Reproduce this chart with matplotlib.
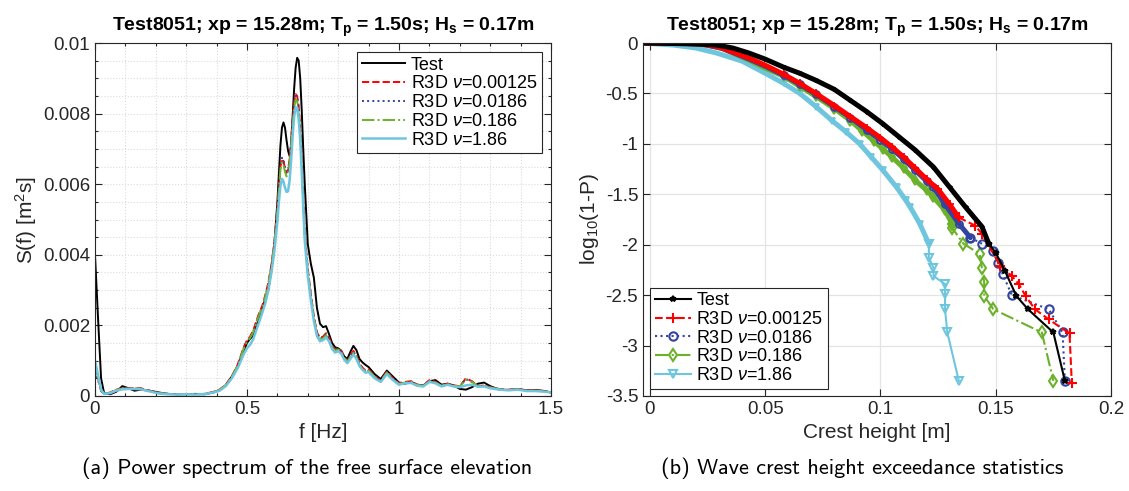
import numpy as np
import matplotlib
matplotlib.use("Agg")
import matplotlib.pyplot as plt
from matplotlib.ticker import MultipleLocator, FuncFormatter

plt.rcParams['font.family'] = ['Liberation Sans', 'DejaVu Sans']
plt.rcParams['mathtext.fontset'] = 'custom'
plt.rcParams['mathtext.rm'] = 'Liberation Sans'
plt.rcParams['mathtext.it'] = 'Liberation Sans:italic'
plt.rcParams['mathtext.bf'] = 'Liberation Sans:bold'

# ---- (a) power spectrum, S in 1e-3 m^2 s ----
f_hz = [0.00, 0.01, 0.02, 0.03, 0.05, 0.07, 0.09, 0.11, 0.13, 0.15,
        0.18, 0.21, 0.24, 0.27, 0.30, 0.33, 0.36, 0.39, 0.41, 0.43,
        0.45, 0.47, 0.49, 0.50, 0.51, 0.52, 0.53, 0.54, 0.55, 0.56,
        0.57, 0.58, 0.59, 0.60, 0.605, 0.61, 0.615, 0.62, 0.625, 0.63,
        0.635, 0.64, 0.645, 0.65, 0.655, 0.66, 0.665, 0.67, 0.675, 0.68,
        0.685, 0.69, 0.70, 0.71, 0.72, 0.73, 0.74, 0.75, 0.76, 0.77,
        0.78, 0.79, 0.80, 0.81, 0.82, 0.83, 0.84, 0.85, 0.86, 0.87,
        0.88, 0.89, 0.90, 0.92, 0.94, 0.96, 0.98, 1.00, 1.02, 1.04,
        1.06, 1.08, 1.10, 1.12, 1.14, 1.16, 1.18, 1.20, 1.22, 1.24,
        1.26, 1.28, 1.30, 1.33, 1.36, 1.39, 1.42, 1.45, 1.48, 1.50]

s_test = [4.00, 2.20, 0.50, 0.08, 0.05, 0.12, 0.28, 0.22, 0.15, 0.18,
          0.15, 0.10, 0.06, 0.05, 0.05, 0.06, 0.05, 0.10, 0.17, 0.30,
          0.55, 0.85, 1.30, 1.50, 1.62, 1.70, 1.95, 2.20, 2.45, 2.75,
          3.00, 3.55, 4.30, 5.50, 6.30, 7.10, 7.60, 7.75, 7.60, 7.25,
          6.95, 6.80, 7.10, 7.90, 8.70, 9.30, 9.58, 9.50, 9.00, 8.10,
          7.00, 6.00, 4.30, 3.75, 3.35, 2.50, 2.05, 1.95, 1.98, 1.75,
          1.50, 1.38, 1.35, 1.28, 1.12, 1.05, 1.25, 1.42, 1.30, 1.05,
          0.95, 0.88, 0.82, 0.62, 0.48, 0.72, 0.55, 0.38, 0.35, 0.40,
          0.32, 0.30, 0.42, 0.45, 0.32, 0.35, 0.30, 0.20, 0.18, 0.25,
          0.35, 0.38, 0.28, 0.18, 0.17, 0.20, 0.16, 0.17, 0.14, 0.10]

s_nu00125 = [0.80, 0.50, 0.15, 0.06, 0.10, 0.18, 0.22, 0.22, 0.22, 0.22,
             0.15, 0.08, 0.06, 0.05, 0.06, 0.05, 0.06, 0.12, 0.18, 0.32,
             0.55, 0.90, 1.40, 1.58, 1.68, 1.85, 2.10, 2.35, 2.55, 2.85,
             3.20, 3.70, 4.35, 5.30, 5.90, 6.50, 6.72, 6.65, 6.45, 6.32,
             6.40, 6.70, 7.20, 7.80, 8.30, 8.55, 8.50, 8.20, 7.60, 6.70,
             5.60, 4.60, 3.60, 2.90, 2.25, 1.80, 1.65, 1.68, 1.78, 1.65,
             1.42, 1.32, 1.36, 1.28, 1.10, 1.00, 1.15, 1.28, 1.15, 0.92,
             0.80, 0.72, 0.75, 0.56, 0.44, 0.70, 0.50, 0.36, 0.40, 0.42,
             0.32, 0.30, 0.45, 0.40, 0.30, 0.35, 0.30, 0.28, 0.50, 0.42,
             0.28, 0.30, 0.25, 0.20, 0.18, 0.20, 0.16, 0.16, 0.14, 0.10]

s_nu0186 = [0.70, 0.45, 0.14, 0.06, 0.10, 0.17, 0.21, 0.21, 0.21, 0.21,
            0.14, 0.08, 0.06, 0.05, 0.06, 0.05, 0.06, 0.11, 0.17, 0.31,
            0.54, 0.88, 1.38, 1.55, 1.65, 1.82, 2.07, 2.32, 2.52, 2.82,
            3.17, 3.68, 4.33, 5.30, 5.92, 6.52, 6.75, 6.68, 6.48, 6.34,
            6.40, 6.68, 7.15, 7.75, 8.25, 8.50, 8.46, 8.15, 7.55, 6.65,
            5.55, 4.55, 3.55, 2.85, 2.22, 1.78, 1.62, 1.66, 1.75, 1.62,
            1.40, 1.30, 1.34, 1.26, 1.08, 0.98, 1.12, 1.25, 1.12, 0.90,
            0.78, 0.70, 0.72, 0.54, 0.43, 0.68, 0.49, 0.35, 0.38, 0.40,
            0.31, 0.29, 0.43, 0.38, 0.29, 0.34, 0.29, 0.27, 0.48, 0.40,
            0.27, 0.29, 0.24, 0.19, 0.17, 0.19, 0.15, 0.15, 0.13, 0.10]

s_nu186 = [0.85, 0.52, 0.16, 0.06, 0.10, 0.17, 0.21, 0.21, 0.21, 0.20,
           0.14, 0.08, 0.06, 0.05, 0.06, 0.05, 0.06, 0.11, 0.17, 0.31,
           0.54, 0.88, 1.36, 1.53, 1.64, 1.80, 2.05, 2.30, 2.50, 2.80,
           3.15, 3.65, 4.30, 5.25, 5.85, 6.42, 6.62, 6.55, 6.35, 6.22,
           6.30, 6.60, 7.08, 7.68, 8.15, 8.40, 8.36, 8.05, 7.45, 6.55,
           5.50, 4.50, 3.50, 2.82, 2.20, 1.76, 1.60, 1.63, 1.72, 1.60,
           1.38, 1.28, 1.32, 1.25, 1.07, 0.97, 1.10, 1.23, 1.10, 0.88,
           0.77, 0.69, 0.72, 0.54, 0.42, 0.66, 0.48, 0.34, 0.38, 0.40,
           0.31, 0.29, 0.43, 0.38, 0.29, 0.34, 0.29, 0.27, 0.46, 0.40,
           0.27, 0.29, 0.24, 0.19, 0.17, 0.19, 0.15, 0.15, 0.13, 0.10]

s_nu186_0 = [1.00, 0.60, 0.18, 0.06, 0.08, 0.15, 0.19, 0.20, 0.20, 0.19,
             0.13, 0.07, 0.05, 0.04, 0.05, 0.04, 0.05, 0.10, 0.15, 0.28,
             0.50, 0.80, 1.20, 1.35, 1.45, 1.60, 1.85, 2.10, 2.35, 2.62,
             2.98, 3.48, 4.10, 4.95, 5.50, 5.95, 6.15, 6.08, 5.90, 5.78,
             5.80, 6.10, 6.65, 7.35, 7.90, 8.18, 8.15, 7.85, 7.25, 6.35,
             5.35, 4.40, 3.40, 2.72, 2.12, 1.70, 1.55, 1.58, 1.66, 1.55,
             1.33, 1.23, 1.27, 1.20, 1.03, 0.93, 1.05, 1.18, 1.05, 0.85,
             0.74, 0.66, 0.68, 0.50, 0.40, 0.62, 0.45, 0.32, 0.36, 0.37,
             0.29, 0.27, 0.40, 0.36, 0.27, 0.32, 0.27, 0.25, 0.30, 0.32,
             0.26, 0.27, 0.22, 0.18, 0.16, 0.18, 0.14, 0.14, 0.12, 0.10]

# ---- (b) crest exceedance: dense body + sparse tail ----
test_body_h = [-0.003, 0.010, 0.020, 0.029, 0.036, 0.043, 0.050, 0.058, 0.065, 0.072,
               0.080, 0.087, 0.094, 0.101, 0.108, 0.115, 0.123, 0.130, 0.137, 0.144, 0.147]
test_body_y = [0.0, -0.005, -0.01, -0.02, -0.05, -0.10, -0.16, -0.24, -0.30, -0.37,
               -0.46, -0.57, -0.68, -0.80, -0.93, -1.06, -1.23, -1.43, -1.63, -1.82, -1.99]
test_tail_h = [0.147, 0.150, 0.154, 0.159, 0.164, 0.175, 0.180]
test_tail_y = [-1.99, -2.08, -2.26, -2.51, -2.64, -2.87, -3.35]

nu00125_body_h = [-0.003, 0.010, 0.022, 0.030, 0.043, 0.050, 0.058, 0.065, 0.072, 0.080,
                  0.087, 0.094, 0.100, 0.105, 0.110, 0.115, 0.120, 0.125, 0.130, 0.134]
nu00125_body_y = [0.0, 0.0, -0.01, -0.04, -0.15, -0.22, -0.31, -0.40, -0.50, -0.62,
                  -0.73, -0.84, -0.94, -1.03, -1.13, -1.24, -1.35, -1.45, -1.60, -1.73]
nu00125_tail_h = [0.134, 0.141, 0.144, 0.152, 0.157, 0.160, 0.163, 0.167, 0.173, 0.182, 0.183]
nu00125_tail_y = [-1.73, -1.81, -1.89, -2.21, -2.31, -2.39, -2.51, -2.64, -2.74, -2.88, -3.37]

nu0186_body_h = [-0.003, 0.010, 0.022, 0.031, 0.043, 0.050, 0.058, 0.065, 0.072, 0.080,
                 0.087, 0.094, 0.100, 0.105, 0.110, 0.115, 0.120, 0.123, 0.128, 0.134, 0.139]
nu0186_body_y = [0.0, 0.0, -0.01, -0.05, -0.16, -0.23, -0.32, -0.41, -0.51, -0.63,
                 -0.74, -0.86, -0.96, -1.05, -1.15, -1.26, -1.37, -1.43, -1.60, -1.79, -1.93]
nu0186_tail_h = [0.139, 0.144, 0.149, 0.151, 0.153, 0.157, 0.173, 0.179, 0.180]
nu0186_tail_y = [-1.93, -1.99, -2.06, -2.18, -2.29, -2.50, -2.64, -2.87, -3.35]

nu186_body_h = [-0.003, 0.010, 0.022, 0.032, 0.043, 0.050, 0.058, 0.065, 0.072, 0.080,
                0.087, 0.092, 0.097, 0.101, 0.105, 0.110, 0.115, 0.120, 0.123, 0.128, 0.131]
nu186_body_y = [0.0, 0.0, 0.0, -0.06, -0.17, -0.25, -0.33, -0.43, -0.53, -0.65,
                -0.77, -0.87, -0.97, -1.05, -1.13, -1.24, -1.36, -1.46, -1.53, -1.66, -1.79]
nu186_tail_h = [0.131, 0.131, 0.136, 0.143, 0.144, 0.145, 0.145, 0.149, 0.170, 0.175]
nu186_tail_y = [-1.79, -1.83, -1.99, -2.09, -2.23, -2.37, -2.51, -2.64, -2.87, -3.35]

nu186_0_body_h = [-0.004, 0.010, 0.020, 0.029, 0.040, 0.050, 0.058, 0.065, 0.072, 0.079,
                  0.085, 0.091, 0.096, 0.101, 0.107, 0.111, 0.113, 0.117, 0.121]
nu186_0_body_y = [0.0, -0.02, -0.05, -0.10, -0.18, -0.30, -0.40, -0.50, -0.63, -0.77,
                  -0.88, -1.00, -1.13, -1.26, -1.43, -1.56, -1.63, -1.79, -1.99]
nu186_0_tail_h = [0.121, 0.121, 0.123, 0.123, 0.128, 0.128, 0.128, 0.129, 0.134]
nu186_0_tail_y = [-1.99, -2.13, -2.23, -2.31, -2.39, -2.49, -2.64, -2.87, -3.35]

labels = ['Test', r'R3D $\nu$=0.00125', r'R3D $\nu$=0.0186', r'R3D $\nu$=0.186', r'R3D $\nu$=1.86']
colors = ['black', '#ff0000', '#3344a0', '#6cb12a', '#6ec6de']
title = r'Test8051; xp = 15.28m; T$_\mathbf{p}$ = 1.50s; H$_\mathbf{s}$ = 0.17m'

fig = plt.figure(figsize=(11.29, 4.91), dpi=100)
ax1 = fig.add_axes([95/1129, 95/491, 456/1129, 353/491])
ax2 = fig.add_axes([643/1129, 95/491, 468/1129, 353/491])

fmt = FuncFormatter(lambda v, p: '%g' % round(v, 6))
tc = '#262626'

# left panel
f = np.array(f_hz)
styles = ['-', '--', ':', '-.', '-']
widths = [1.4, 1.4, 1.4, 1.4, 1.8]
for s, lab, c, ls, lw in zip([s_test, s_nu00125, s_nu0186, s_nu186, s_nu186_0], labels, colors, styles, widths):
    ax1.plot(f, np.array(s) * 1e-3, ls, color=c, lw=lw, label=lab)

ax1.set_xlim(0, 1.5)
ax1.set_ylim(0, 0.01)
ax1.xaxis.set_major_locator(MultipleLocator(0.5))
ax1.xaxis.set_minor_locator(MultipleLocator(0.1))
ax1.yaxis.set_major_locator(MultipleLocator(0.002))
ax1.yaxis.set_minor_locator(MultipleLocator(0.0005))
ax1.xaxis.set_major_formatter(fmt)
ax1.yaxis.set_major_formatter(fmt)
ax1.grid(True, which='major', color='#dcdcdc', lw=0.8, ls=':')
ax1.grid(True, which='minor', color='#dcdcdc', lw=0.8, ls=':')
ax1.set_xlabel('f [Hz]', fontsize=15, color=tc)
ax1.set_ylabel('S(f) [m$^2$s]', fontsize=15, color=tc, labelpad=3)
ax1.set_title(title, fontsize=14, fontweight='bold', pad=9)
leg1 = ax1.legend(loc='upper right', fontsize=13, frameon=True, fancybox=False,
                  edgecolor='#262626', framealpha=1, handlelength=2.4, labelspacing=0.1,
                  borderpad=0.25, handletextpad=0.3, borderaxespad=0.5)
leg1.get_frame().set_linewidth(0.8)

# right panel
series = [
    (test_body_h, test_body_y, test_tail_h, test_tail_y, '-', '*', 4),
    (nu00125_body_h, nu00125_body_y, nu00125_tail_h, nu00125_tail_y, '--', '+', 7),
    (nu0186_body_h, nu0186_body_y, nu0186_tail_h, nu0186_tail_y, ':', 'o', 6),
    (nu186_body_h, nu186_body_y, nu186_tail_h, nu186_tail_y, '-.', 'd', 6),
    (nu186_0_body_h, nu186_0_body_y, nu186_0_tail_h, nu186_0_tail_y, '-', 'v', 6),
]
order = [4, 3, 2, 1, 0]
handles = [None] * 5
for i in order:
    bh, by, th, ty, ls, mk, ms = series[i]
    c = colors[i]
    ax2.plot(bh, by, '-', color=c, lw=3.6, solid_capstyle='round')
    ax2.plot(bh[6:], by[6:], mk, color=c, ms=ms - 1, mfc='none', mew=1.3)
    handles[i], = ax2.plot(th, ty, ls=ls, marker=mk, color=c, lw=1.5, ms=ms,
                           mfc='none', mew=1.5, label=labels[i])

ax2.set_xlim(-0.003, 0.2)
ax2.set_ylim(-3.5, 0)
ax2.xaxis.set_major_locator(MultipleLocator(0.05))
ax2.yaxis.set_major_locator(MultipleLocator(0.5))
ax2.xaxis.set_major_formatter(fmt)
ax2.yaxis.set_major_formatter(fmt)
ax2.grid(True, which='major', color='#e4e4e4', lw=0.9)
ax2.set_xlabel('Crest height [m]', fontsize=15, color=tc)
ax2.set_ylabel('log$_{10}$(1-P)', fontsize=15, color=tc, labelpad=3)
ax2.set_title(title, fontsize=14, fontweight='bold', pad=9)
leg2 = ax2.legend(handles=handles, loc='lower left', fontsize=13, frameon=True, fancybox=False,
                  edgecolor='#262626', framealpha=1, handlelength=2.0, labelspacing=0.1,
                  borderpad=0.25, handletextpad=0.3, borderaxespad=0.4)
leg2.get_frame().set_linewidth(0.8)

for ax in (ax1, ax2):
    ax.set_axisbelow(True)
    ax.tick_params(which='both', direction='in', top=True, right=True, colors=tc,
                   labelsize=13.5, width=0.8)
    ax.tick_params(which='major', length=5)
    ax.tick_params(which='minor', length=2.5)
    for sp in ax.spines.values():
        sp.set_color(tc)
        sp.set_linewidth(0.8)
ax2.minorticks_off()

fig.text(0.272, 0.035, '(a) Power spectrum of the free surface elevation',
         family='cmss10', fontsize=16, ha='center')
fig.text(0.764, 0.035, '(b) Wave crest height exceedance statistics',
         family='cmss10', fontsize=16, ha='center')

fig.savefig('out.png', dpi=100)
